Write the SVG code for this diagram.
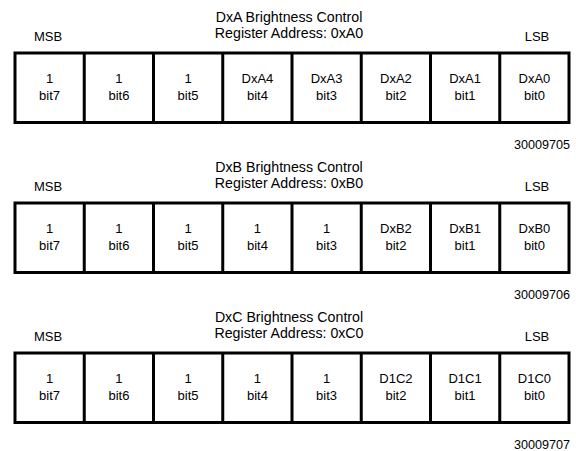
<svg xmlns="http://www.w3.org/2000/svg" width="576" height="451" viewBox="0 0 576 451">
<style>
text{font-family:"Liberation Sans",Arial,sans-serif;fill:#000}
.t{font-size:14.2px;text-anchor:middle}
.m{font-size:13px;text-anchor:middle}
.c{font-size:13px;text-anchor:middle}
.f{font-size:12.6px;text-anchor:end}
.box{fill:#fff;stroke:#000;stroke-width:3}
.div{stroke:#000;stroke-width:3}
</style>
<rect width="576" height="451" fill="#fff"/>
<defs>
<g id="frame">
<rect class="box" x="15" y="53" width="554" height="69.5"/>
<path class="div" d="M84.25 53V122.5M153.5 53V122.5M222.75 53V122.5M292 53V122.5M361.25 53V122.5M430.5 53V122.5M499.75 53V122.5"/>
</g>
</defs>
<g id="regA">
<text class="t" x="289" y="21.5">DxA Brightness Control</text>
<text class="t" x="289" y="38">Register Address: 0xA0</text>
<text class="m" x="48" y="41">MSB</text>
<text class="m" x="537" y="41">LSB</text>
<use href="#frame"/>
<text class="c" x="49.6" y="82.7">1</text><text class="c" x="49.6" y="99.5">bit7</text>
<text class="c" x="118.9" y="82.7">1</text><text class="c" x="118.9" y="99.5">bit6</text>
<text class="c" x="188.1" y="82.7">1</text><text class="c" x="188.1" y="99.5">bit5</text>
<text class="c" x="257.4" y="82.7">DxA4</text><text class="c" x="257.4" y="99.5">bit4</text>
<text class="c" x="326.6" y="82.7">DxA3</text><text class="c" x="326.6" y="99.5">bit3</text>
<text class="c" x="395.9" y="82.7">DxA2</text><text class="c" x="395.9" y="99.5">bit2</text>
<text class="c" x="465.1" y="82.7">DxA1</text><text class="c" x="465.1" y="99.5">bit1</text>
<text class="c" x="534.4" y="82.7">DxA0</text><text class="c" x="534.4" y="99.5">bit0</text>
<text class="f" x="570" y="149.3">30009705</text>
</g>
<g id="regB" transform="translate(0,150)">
<text class="t" x="289" y="21.5">DxB Brightness Control</text>
<text class="t" x="289" y="38">Register Address: 0xB0</text>
<text class="m" x="48" y="41">MSB</text>
<text class="m" x="537" y="41">LSB</text>
<use href="#frame"/>
<text class="c" x="49.6" y="82.7">1</text><text class="c" x="49.6" y="99.5">bit7</text>
<text class="c" x="118.9" y="82.7">1</text><text class="c" x="118.9" y="99.5">bit6</text>
<text class="c" x="188.1" y="82.7">1</text><text class="c" x="188.1" y="99.5">bit5</text>
<text class="c" x="257.4" y="82.7">1</text><text class="c" x="257.4" y="99.5">bit4</text>
<text class="c" x="326.6" y="82.7">1</text><text class="c" x="326.6" y="99.5">bit3</text>
<text class="c" x="395.9" y="82.7">DxB2</text><text class="c" x="395.9" y="99.5">bit2</text>
<text class="c" x="465.1" y="82.7">DxB1</text><text class="c" x="465.1" y="99.5">bit1</text>
<text class="c" x="534.4" y="82.7">DxB0</text><text class="c" x="534.4" y="99.5">bit0</text>
<text class="f" x="570" y="149">30009706</text>
</g>
<g id="regC" transform="translate(0,300)">
<text class="t" x="289" y="21.5">DxC Brightness Control</text>
<text class="t" x="289" y="38">Register Address: 0xC0</text>
<text class="m" x="48" y="41">MSB</text>
<text class="m" x="537" y="41">LSB</text>
<use href="#frame"/>
<text class="c" x="49.6" y="82.7">1</text><text class="c" x="49.6" y="99.5">bit7</text>
<text class="c" x="118.9" y="82.7">1</text><text class="c" x="118.9" y="99.5">bit6</text>
<text class="c" x="188.1" y="82.7">1</text><text class="c" x="188.1" y="99.5">bit5</text>
<text class="c" x="257.4" y="82.7">1</text><text class="c" x="257.4" y="99.5">bit4</text>
<text class="c" x="326.6" y="82.7">1</text><text class="c" x="326.6" y="99.5">bit3</text>
<text class="c" x="395.9" y="82.7">D1C2</text><text class="c" x="395.9" y="99.5">bit2</text>
<text class="c" x="465.1" y="82.7">D1C1</text><text class="c" x="465.1" y="99.5">bit1</text>
<text class="c" x="534.4" y="82.7">D1C0</text><text class="c" x="534.4" y="99.5">bit0</text>
<text class="f" x="570" y="148.8">30009707</text>
</g>
<g id="connectors"/>
</svg>
